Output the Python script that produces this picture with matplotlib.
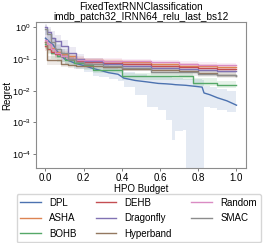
import numpy as np
import matplotlib
matplotlib.use("Agg")
import matplotlib.pyplot as plt
from matplotlib.ticker import LogLocator, NullLocator

plt.rcParams["font.family"] = ["Liberation Sans", "DejaVu Sans"]
plt.rcParams["mathtext.fontset"] = "custom"
plt.rcParams["mathtext.rm"] = "Liberation Sans"
plt.rcParams["mathtext.it"] = "Liberation Sans:italic"
plt.rcParams["mathtext.bf"] = "Liberation Sans:bold"

# ---- data ----
dpl_x = [0.0, 0.02, 0.04, 0.06, 0.08, 0.10, 0.12, 0.15, 0.20, 0.25, 0.28, 0.33, 0.38, 0.41,
         0.47, 0.53, 0.59, 0.63, 0.66, 0.68, 0.72, 0.735, 0.82, 0.83, 0.86, 0.90, 0.95, 1.0]
dpl_y = [0.45, 0.35, 0.28, 0.18, 0.13, 0.10, 0.09, 0.075, 0.062, 0.05, 0.045, 0.037, 0.033, 0.025,
         0.021, 0.019, 0.017, 0.0165, 0.016, 0.0155, 0.015, 0.0148, 0.013, 0.0085, 0.0075, 0.006,
         0.0048, 0.0035]
dpl_lo = [0.3, 0.22, 0.17, 0.11, 0.08, 0.065, 0.058, 0.048, 0.04, 0.03, 0.027, 0.024, 0.02, 0.0134,
          0.0074, 0.0031, 0.0025, 0.0012, 0.00028, 0.00054, 0.00058, 1e-6, 1e-6, 0.003, 0.0028,
          0.0025, 0.0022, 0.002]
dpl_hi = [0.8, 0.6, 0.45, 0.3, 0.2, 0.15, 0.12, 0.1, 0.085, 0.07, 0.065, 0.055, 0.05, 0.04,
          0.034, 0.03, 0.028, 0.027, 0.026, 0.025, 0.024, 0.024, 0.022, 0.014, 0.013, 0.011,
          0.0095, 0.0085]

bohb_x = [0.0, 0.01, 0.03, 0.06, 0.10, 0.15, 0.20, 0.25, 0.40, 0.77, 0.90, 1.0]
bohb_y = [0.3, 0.2, 0.15, 0.12, 0.09, 0.075, 0.065, 0.046, 0.029, 0.018, 0.015, 0.015]
bohb_lo = [0.2, 0.14, 0.1, 0.08, 0.065, 0.055, 0.045, 0.035, 0.022, 0.014, 0.012, 0.012]
bohb_hi = [0.4, 0.27, 0.2, 0.16, 0.12, 0.095, 0.085, 0.06, 0.037, 0.025, 0.02, 0.02]

base_x = [0.0, 0.01, 0.03, 0.05, 0.08, 0.12, 0.16, 0.20, 0.30, 0.40, 0.55, 0.70, 0.80, 0.90, 1.0]
asha_y = [0.34, 0.3, 0.22, 0.16, 0.14, 0.12, 0.1, 0.09, 0.085, 0.078, 0.068, 0.062, 0.058, 0.055, 0.054]
asha_lo = [0.25, 0.22, 0.17, 0.12, 0.11, 0.1, 0.085, 0.077, 0.073, 0.067, 0.059, 0.054, 0.05, 0.048, 0.047]
asha_hi = [0.45, 0.4, 0.3, 0.21, 0.18, 0.15, 0.12, 0.105, 0.1, 0.091, 0.079, 0.072, 0.067, 0.064, 0.062]
dehb_y = [0.25, 0.2, 0.17, 0.14, 0.12, 0.1, 0.085, 0.08, 0.075, 0.068, 0.06, 0.055, 0.052, 0.049, 0.048]
dehb_lo = [0.18, 0.15, 0.13, 0.11, 0.095, 0.082, 0.072, 0.068, 0.064, 0.058, 0.052, 0.048, 0.045, 0.042, 0.041]
dehb_hi = [0.34, 0.27, 0.22, 0.18, 0.15, 0.12, 0.1, 0.094, 0.088, 0.08, 0.07, 0.064, 0.06, 0.057, 0.056]
drag_y = [1.0, 0.7, 0.45, 0.38, 0.25, 0.15, 0.1, 0.085, 0.07, 0.06, 0.053, 0.048, 0.045, 0.043, 0.042]
drag_lo = [0.55, 0.4, 0.25, 0.2, 0.14, 0.1, 0.075, 0.066, 0.057, 0.05, 0.045, 0.041, 0.038, 0.037, 0.036]
drag_hi = [1.3, 1.0, 0.75, 0.55, 0.4, 0.23, 0.14, 0.105, 0.085, 0.072, 0.063, 0.056, 0.053, 0.05, 0.049]
hyper_y = [0.35, 0.09, 0.09, 0.09, 0.07, 0.065, 0.062, 0.06, 0.055, 0.05, 0.045, 0.042, 0.036, 0.032, 0.03]
hyper_lo = [0.22, 0.065, 0.065, 0.065, 0.055, 0.052, 0.05, 0.048, 0.045, 0.041, 0.037, 0.035, 0.03, 0.027, 0.025]
hyper_hi = [0.5, 0.12, 0.12, 0.12, 0.09, 0.082, 0.077, 0.074, 0.067, 0.06, 0.054, 0.05, 0.043, 0.038, 0.036]
rand_y = [0.4, 0.3, 0.2, 0.15, 0.12, 0.1, 0.095, 0.09, 0.088, 0.085, 0.078, 0.07, 0.066, 0.064, 0.063]
rand_lo = [0.28, 0.22, 0.15, 0.115, 0.095, 0.082, 0.078, 0.074, 0.073, 0.071, 0.065, 0.059, 0.056, 0.054, 0.053]
rand_hi = [0.55, 0.42, 0.28, 0.2, 0.155, 0.125, 0.115, 0.11, 0.106, 0.102, 0.094, 0.084, 0.079, 0.076, 0.075]
smac_y = [0.9, 0.6, 0.35, 0.2, 0.15, 0.1, 0.08, 0.07, 0.06, 0.052, 0.04, 0.038, 0.034, 0.031, 0.03]
smac_lo = [0.55, 0.38, 0.22, 0.14, 0.11, 0.078, 0.063, 0.056, 0.048, 0.042, 0.032, 0.03, 0.027, 0.025, 0.024]
smac_hi = [1.2, 0.85, 0.5, 0.28, 0.2, 0.13, 0.1, 0.088, 0.075, 0.065, 0.05, 0.047, 0.042, 0.039, 0.038]

colors = {"DPL": "#4C72B0", "ASHA": "#DD8452", "BOHB": "#55A868", "DEHB": "#C44E52",
          "Dragonfly": "#8172B3", "Hyperband": "#937860", "Random": "#DA8BC3", "SMAC": "#8C8C8C"}

series = [
    ("DPL", dpl_x, dpl_y, dpl_lo, dpl_hi, None),
    ("ASHA", base_x, asha_y, asha_lo, asha_hi, "post"),
    ("BOHB", bohb_x, bohb_y, bohb_lo, bohb_hi, "post"),
    ("DEHB", base_x, dehb_y, dehb_lo, dehb_hi, "post"),
    ("Dragonfly", base_x, drag_y, drag_lo, drag_hi, "post"),
    ("Hyperband", base_x, hyper_y, hyper_lo, hyper_hi, "post"),
    ("Random", base_x, rand_y, rand_lo, rand_hi, "post"),
    ("SMAC", base_x, smac_y, smac_lo, smac_hi, "post"),
]

fig = plt.figure(figsize=(2.66, 2.43), dpi=100)
ax = fig.add_axes([0.135, 0.309, 0.79, 0.600])

for name, x, y, lo, hi, step in series:
    c = colors[name]
    ax.fill_between(x, lo, hi, step="post", color=c, alpha=0.15, lw=0)
    if step:
        ax.plot(x, y, drawstyle="steps-post", color=c, lw=1.0, label=name)
    else:
        ax.plot(x, y, color=c, lw=1.0, label=name)

ax.set_yscale("log")
ax.set_xlim(-0.05, 1.05)
ax.set_ylim(10 ** -4.43, 10 ** 0.16)
ax.yaxis.set_major_locator(LogLocator(base=10, numticks=10))
ax.yaxis.set_minor_locator(NullLocator())
ax.set_xticks([0.0, 0.2, 0.4, 0.6, 0.8, 1.0])
ax.tick_params(labelsize=7, length=2.5, width=0.6, color="0.4", pad=1.2)
ax.tick_params(axis="y", labelsize=6.5)
for s in ax.spines.values():
    s.set_color("0.55")
    s.set_linewidth(0.8)

ax.set_xlabel("HPO Budget", fontsize=7, labelpad=1)
ax.set_ylabel("Regret", fontsize=7)
ax.yaxis.set_label_coords(-0.112, 0.5)
ax.set_title("FixedTextRNNClassification\nimdb_patch32_IRNN64_relu_last_bs12",
             fontsize=7.2, pad=1, linespacing=1.0)

fig.legend(loc="upper center", bbox_to_anchor=(0.521, 0.2016), ncol=3, fontsize=7,
           frameon=True, handlelength=2.1, columnspacing=2.0, labelspacing=0.55,
           borderpad=0.4, handletextpad=0.85, borderaxespad=0)

fig.savefig("out.png", dpi=100)
